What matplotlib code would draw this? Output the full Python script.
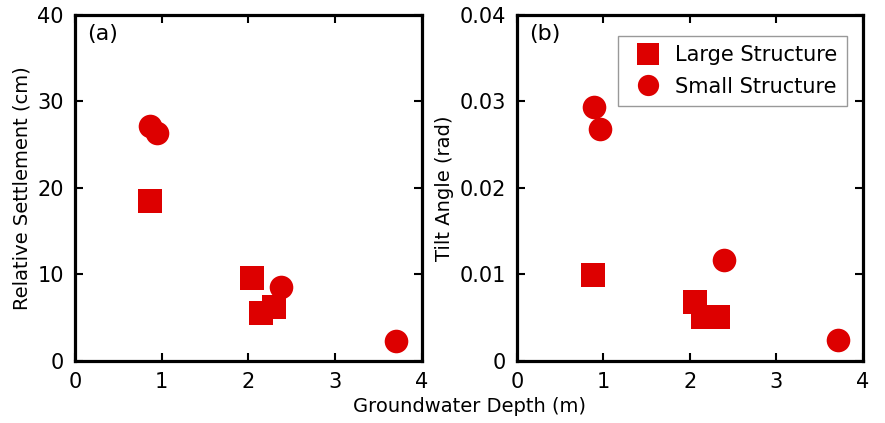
import numpy as np
import matplotlib
matplotlib.use("Agg")
import matplotlib.pyplot as plt

plt.rcParams['font.family'] = ['DejaVu Sans']

# (a) relative settlement
large_depth_a = [0.87, 2.04, 2.15, 2.30]
large_settle = [18.5, 9.6, 5.5, 6.2]
small_depth_a = [0.87, 0.95, 2.37, 3.70]
small_settle = [27.2, 26.4, 8.6, 2.3]

# (b) tilt angle
large_depth_b = [0.88, 2.06, 2.15, 2.33]
large_tilt = [0.0099, 0.0068, 0.0051, 0.0051]
small_depth_b = [0.89, 0.96, 2.39, 3.71]
small_tilt = [0.0294, 0.0268, 0.0117, 0.0024]

red = '#dd0000'
fig = plt.figure(figsize=(8.85, 4.23), dpi=100)
ax1 = fig.add_axes([0.0847, 0.1466, 0.392, 0.818])
ax2 = fig.add_axes([0.584, 0.1466, 0.391, 0.818])

for ax in (ax1, ax2):
    ax.set_xlim(0, 4)
    ax.set_xticks([0, 1, 2, 3, 4])
    ax.tick_params(direction='in', top=True, right=True, length=6, width=1.5,
                   labelsize=15, pad=8)
    for s in ax.spines.values():
        s.set_linewidth(2.3)

ax1.plot(large_depth_a, large_settle, 's', color=red, ms=17, mew=0, label='Large Structure')
ax1.plot(small_depth_a, small_settle, 'o', color=red, ms=17, mew=0, label='Small Structure')
ax1.set_ylim(0, 40)
ax1.set_yticks([0, 10, 20, 30, 40])
ax1.set_ylabel('Relative Settlement (cm)', fontsize=14, labelpad=4)
ax1.text(0.035, 0.975, '(a)', transform=ax1.transAxes, fontsize=16, va='top')

ax2.plot(large_depth_b, large_tilt, 's', color=red, ms=17, mew=0, label='Large Structure')
ax2.plot(small_depth_b, small_tilt, 'o', color=red, ms=17, mew=0, label='Small Structure')
ax2.set_ylim(0, 0.04)
ax2.set_yticks([0, 0.01, 0.02, 0.03, 0.04])
ax2.set_yticklabels(['0', '0.01', '0.02', '0.03', '0.04'])
ax2.set_ylabel('Tilt Angle (rad)', fontsize=14, labelpad=4)
ax2.text(0.035, 0.975, '(b)', transform=ax2.transAxes, fontsize=16, va='top')
leg = ax2.legend(loc='upper right', fontsize=15, fancybox=False, framealpha=1,
                 edgecolor='#999999', handletextpad=0.3, borderpad=0.45,
                 labelspacing=0.55, markerscale=0.9, bbox_to_anchor=(0.983, 0.97))

fig.text(0.53, 0.025, 'Groundwater Depth (m)', fontsize=14, ha='center')

fig.savefig('out.png', dpi=100)
